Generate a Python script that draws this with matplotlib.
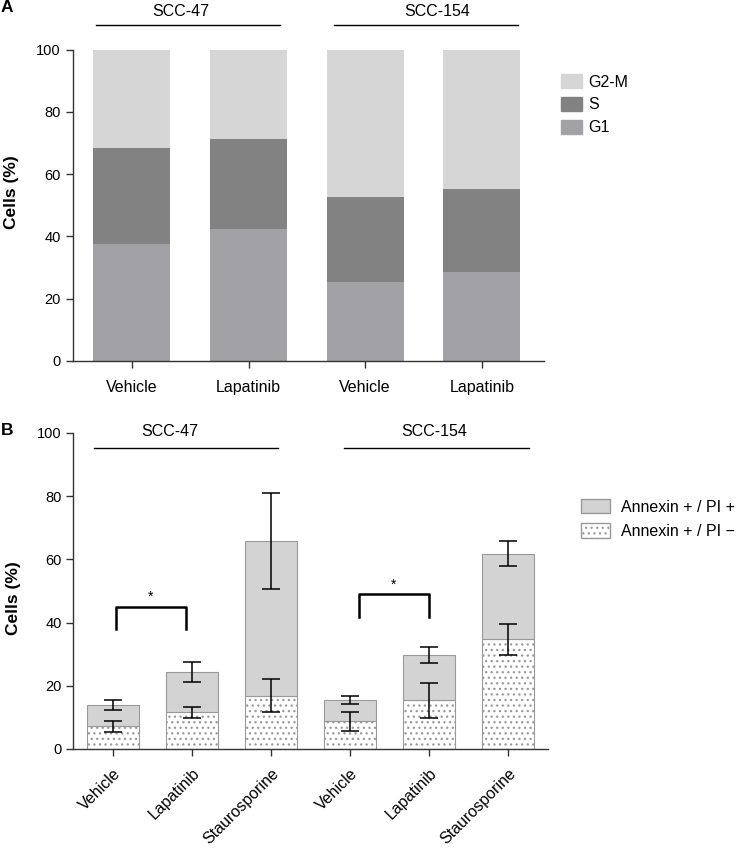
import numpy as np
import matplotlib
matplotlib.use('Agg')
import matplotlib.pyplot as plt
from matplotlib.patches import Patch

plt.rcParams['font.family'] = ['Liberation Sans', 'DejaVu Sans']
plt.rcParams['hatch.linewidth'] = 0.9
plt.rcParams['hatch.color'] = '#1a1a1a'

# --- Panel A: cell cycle distribution ---
cycle_labels = ['Vehicle', 'Lapatinib', 'Vehicle', 'Lapatinib']
g1 = [37.5, 42.4, 25.4, 28.6]
s_phase = [30.8, 28.9, 27.4, 26.5]
g2m = [31.7, 28.7, 47.2, 44.9]

# --- Panel B: apoptosis ---
apo_labels = ['Vehicle', 'Lapatinib', 'Staurosporine', 'Vehicle', 'Lapatinib', 'Staurosporine']
pi_neg = [7.2, 11.6, 16.9, 8.7, 15.4, 34.8]
pi_neg_err = [1.8, 1.75, 5.3, 3.1, 5.55, 4.9]
pi_pos = [6.7, 12.7, 48.9, 6.8, 14.3, 27.0]
total_err = [1.7, 3.15, 15.3, 1.4, 2.6, 3.9]

cell_lines = ['SCC-47', 'SCC-154']

fig = plt.figure(figsize=(7.36, 8.49), dpi=100)

axis_col = '#333333'


def style_axis(ax):
    for side in ['top', 'right']:
        ax.spines[side].set_visible(False)
    for side in ['left', 'bottom']:
        ax.spines[side].set_color(axis_col)
        ax.spines[side].set_linewidth(1.0)
    ax.tick_params(colors=axis_col, length=5, width=1.0, labelsize=10.5,
                   labelcolor='black')


# Panel A
axA = fig.add_axes([0.0988, 0.5748, 0.640, 0.3667])
xa = np.arange(len(cycle_labels))
wA = 0.66
bottom_s = np.array(g1)
bottom_g2 = bottom_s + np.array(s_phase)
axA.bar(xa, g1, wA, color='#a1a1a6', label='G1')
axA.bar(xa, s_phase, wA, bottom=bottom_s, color='#828282', label='S')
axA.bar(xa, g2m, wA, bottom=bottom_g2, color='#d6d6d6', label='G2-M')
axA.set_xlim(-0.508, 3.531)
axA.set_ylim(0, 100)
axA.set_yticks([0, 20, 40, 60, 80, 100])
axA.set_xticks(xa)
axA.set_xticklabels(cycle_labels)
style_axis(axA)
axA.tick_params(axis='x', labelsize=11.5, pad=9)

# group lines A
for x0, x1, tx, name in [(-0.31, 1.27, 0.42, cell_lines[0]), (1.73, 3.31, 2.62, cell_lines[1])]:
    axA.plot([x0, x1], [107.9, 107.9], color='black', lw=1.0, clip_on=False)
    axA.text(tx, 112.4, name, ha='center', va='center', fontsize=11.5)

handles = [Patch(color='#d6d6d6', label='G2-M'),
           Patch(color='#828282', label='S'),
           Patch(color='#a1a1a6', label='G1')]
fig.legend(handles=handles, loc='upper left', bbox_to_anchor=(561 / 736, 1 - 74 / 849),
           frameon=False, fontsize=11.5, handlelength=1.3, handleheight=1.0,
           handletextpad=0.4, labelspacing=0.45, borderpad=0, borderaxespad=0)

# Panel B
axB = fig.add_axes([0.0996, 0.1178, 0.645, 0.3722])
xb = np.arange(len(apo_labels))
wB = 0.663
axB.bar(xb, pi_neg, wB, color='white', edgecolor='#999999', hatch='...', lw=0.8,
        label='Annexin + / PI \u2212')
axB.bar(xb, pi_pos, wB, bottom=pi_neg, color='#d3d3d3', edgecolor='#999999', lw=0.8,
        label='Annexin + / PI +')
tot = np.array(pi_neg) + np.array(pi_pos)
axB.errorbar(xb, pi_neg, yerr=pi_neg_err, fmt='none', ecolor='black', elinewidth=1.1,
             capsize=6.5, capthick=1.1)
axB.errorbar(xb, tot, yerr=total_err, fmt='none', ecolor='black', elinewidth=1.1,
             capsize=6.5, capthick=1.1)
axB.set_xlim(-0.507, 5.511)
axB.set_ylim(0, 100)
axB.set_yticks([0, 20, 40, 60, 80, 100])
axB.set_xticks(xb)
axB.set_xticklabels(apo_labels, rotation=45, ha='right', rotation_mode='anchor')
style_axis(axB)
axB.tick_params(axis='x', labelsize=11.5, pad=7)

for x0, x1, tx, name in [(-0.25, 2.09, 0.72, cell_lines[0]), (2.93, 5.27, 4.07, cell_lines[1])]:
    axB.plot([x0, x1], [95.3, 95.3], color='black', lw=1.0, clip_on=False)
    axB.text(tx, 100.4, name, ha='center', va='center', fontsize=11.5, clip_on=False)

# significance brackets
for x0, x1, yh, yl in [(0.03, 0.92, 45.0, 38.0), (3.11, 4.0, 48.9, 41.9)]:
    axB.plot([x0, x0, x1, x1], [yl, yh, yh, yl], color='black', lw=1.8,
             solid_joinstyle='round')
    axB.text((x0 + x1) / 2, yh + 1.0, '*', ha='center', va='bottom', fontsize=10)

hB = [Patch(facecolor='#d3d3d3', edgecolor='#999999', label='Annexin + / PI +'),
      Patch(facecolor='white', edgecolor='#999999', hatch='...', label='Annexin + / PI \u2212')]
fig.legend(handles=hB, loc='upper left', bbox_to_anchor=(581 / 736, 1 - 499 / 849),
           frameon=False, fontsize=11.5, handlelength=1.8, handleheight=1.0,
           handletextpad=0.7, labelspacing=0.55, borderpad=0, borderaxespad=0)

# axis titles and panel letters
fig.text(12 / 736, 1 - 192 / 849, 'Cells (%)', rotation=90, ha='center', va='center',
         fontsize=12.5, fontweight='bold')
fig.text(14 / 736, 1 - 598 / 849, 'Cells (%)', rotation=90, ha='center', va='center',
         fontsize=12.5, fontweight='bold')
fig.text(7 / 736, 1 - 8 / 849, 'A', ha='center', va='center', fontsize=12.5, fontweight='bold')
fig.text(7 / 736, 1 - 430 / 849, 'B', ha='center', va='center', fontsize=12.5, fontweight='bold')

fig.savefig('out.png', dpi=100)
